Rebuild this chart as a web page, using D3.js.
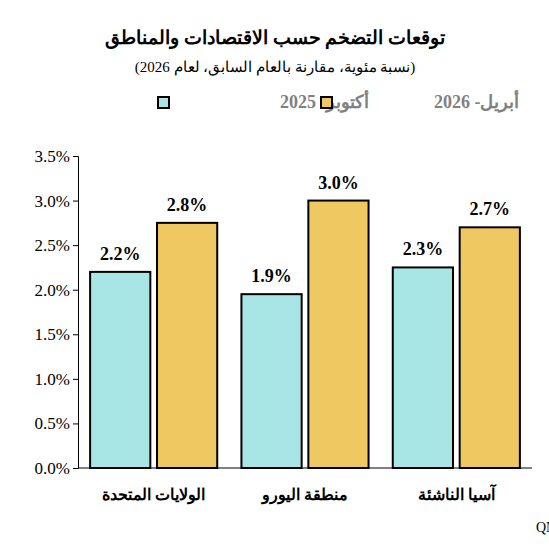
<!DOCTYPE html><html><head><meta charset="utf-8"><script src="https://cdn.jsdelivr.net/npm/d3@7"></script>
<style>body{margin:0;background:#fff}text{font-family:"Liberation Serif","Times New Roman",serif}</style></head><body><svg id="c" width="549" height="556"></svg>
<script>
const categories=["الولايات المتحدة","منطقة اليورو","آسيا الناشئة"];
const seriesNames=["أكتوبر- 2025","أبريل- 2026"];
const oct2025=[2.2,1.95,2.25];
const apr2026=[2.75,3.0,2.7];
const octLabels=["2.2%","1.9%","2.3%"];
const aprLabels=["2.8%","3.0%","2.7%"];
const yTicks=[0,0.5,1,1.5,2,2.5,3,3.5];
const colors=["#a8e6e6","#f0c862"];
const svg=d3.select("#c");
const x=d3.scaleBand().domain(categories).range([78,532]).paddingInner(0.16).paddingOuter(0.08);
const x1=d3.scaleBand().domain([0,1]).range([0,x.bandwidth()]).paddingInner(0.1);
const y=d3.scaleLinear().domain([0,3.5]).range([468,156]);
svg.append("text").attr("x",275).attr("y",44).attr("text-anchor","middle").attr("font-size",19).attr("font-weight","bold").text("توقعات التضخم حسب الاقتصادات والمناطق");
svg.append("text").attr("x",275).attr("y",72).attr("text-anchor","middle").attr("font-size",15).text("(نسبة مئوية، مقارنة بالعام السابق، لعام 2026)");
const leg=[{i:0,sx:158,tx:280},{i:1,sx:321,tx:434}];
leg.forEach(l=>{svg.append("rect").attr("x",l.sx).attr("y",97).attr("width",11).attr("height",11).attr("fill",colors[l.i]).attr("stroke","#000").attr("stroke-width",2);
svg.append("text").attr("x",l.tx).attr("y",108).attr("text-anchor","end").attr("font-size",18).attr("font-weight","bold").attr("fill","#808080").attr("direction","rtl").text(seriesNames[l.i]);});
const ax=svg.append("g").attr("transform","translate(78,0)").call(d3.axisLeft(y).tickValues(yTicks).tickFormat(d=>d.toFixed(1)+"%").tickSize(5));
ax.select(".domain").attr("stroke","#000");
ax.selectAll("text").attr("font-size",17).attr("fill","#000").style("font-family","Liberation Serif");
svg.append("line").attr("x1",78).attr("x2",532).attr("y1",y(0)).attr("y2",y(0)).attr("stroke","#000");
const series=[oct2025,apr2026],labels=[octLabels,aprLabels];
categories.forEach((c,ci)=>{[0,1].forEach(s=>{
const bx=x(c)+x1(s);
svg.append("rect").attr("x",bx).attr("y",y(series[s][ci])).attr("width",x1.bandwidth()).attr("height",y(0)-y(series[s][ci])).attr("fill",colors[s]).attr("stroke","#000").attr("stroke-width",2);
svg.append("text").attr("x",bx+x1.bandwidth()/2).attr("y",y(series[s][ci])-12).attr("text-anchor","middle").attr("font-size",18).attr("font-weight","bold").text(labels[s][ci]);});
svg.append("text").attr("x",x(c)+x.bandwidth()/2).attr("y",500).attr("text-anchor","middle").attr("font-size",16).attr("font-weight","bold").text(c);});
svg.append("text").attr("x",536).attr("y",532).attr("text-anchor","end").attr("direction","rtl").attr("font-size",14).text("المصدر: تقرير صندوق النقد الدولي لآفاق الاقتصاد العالمي، قسم الاقتصاد في QNB");
</script></body></html>
